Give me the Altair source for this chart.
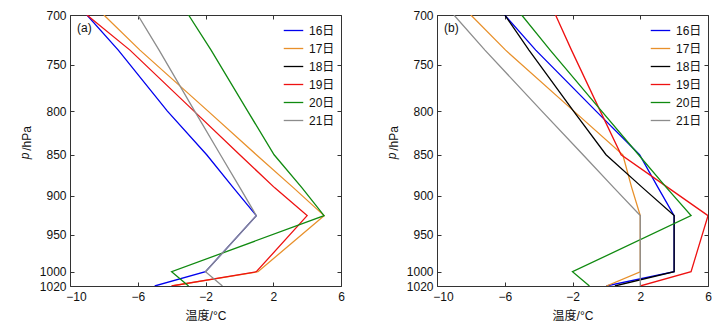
import altair as alt
import pandas as pd

levels = [700, 735, 800, 850, 890, 925, 1000, 1020]
days = ["16日", "17日", "18日", "19日", "20日", "21日"]
colors = ["#0000ee", "#e8902a", "#000000", "#ee1111", "#108a10", "#8c8c8c"]

# panel (a) temperatures (°C) at the levels above
a_16 = [-9.0, -7.15, -4.25, -1.93, -0.35, 1.0, -2.0, -5.0]
a_17 = [-8.0, -5.87, -1.85, 1.0, 3.2, 5.0, 1.1, -4.0]
a_19 = [-9.0, -6.46, -2.68, 0.02, 2.09, 4.0, 1.0, -4.0]
a_20 = [-3.0, -1.67, 0.49, 2.05, 3.7, 5.0, -4.0, -3.0]
a_21 = [-6.0, -4.74, -2.64, -1.12, 0.04, 1.0, -2.0, -1.0]

# panel (b)
b_16 = [-6.0, -4.17, -0.61, 1.96, 3.06, 4.0, 4.0, 0.0]
b_17 = [-8.0, -5.95, -1.92, 0.97, 1.5, 2.0, 2.0, 0.0]
b_18 = [-6.0, -4.57, -1.94, -0.02, 2.15, 4.0, 4.0, 0.5]
b_19 = [-3.0, -2.06, -0.36, 0.87, 3.66, 6.0, 5.0, 2.0]
b_20 = [-5.0, -3.32, -0.28, 1.9, 3.56, 5.0, -2.0, -1.0]
b_21 = [-9.0, -7.17, -3.81, -1.38, 0.45, 2.0, 2.0, 2.0]

x_ticks = [-10, -6, -2, 2, 6]
y_ticks = [700, 750, 800, 850, 900, 950, 1000, 1020]

FONT = "Liberation Sans, Arial, Noto Sans CJK SC"
FRAME = "#333333"


def to_df(series):
    rows = []
    for day, vals in series.items():
        for p, t in zip(levels, vals):
            rows.append({"day": day, "p": p, "t": t})
    return pd.DataFrame(rows)


df_a = to_df({"16日": a_16, "17日": a_17, "19日": a_19, "20日": a_20, "21日": a_21})
df_b = to_df({"16日": b_16, "17日": b_17, "18日": b_18, "19日": b_19, "20日": b_20, "21日": b_21})

xscale = alt.Scale(domain=[-10, 6], nice=False, zero=False)
yscale = alt.Scale(type="log", domain=[700, 1020], reverse=True, nice=False)

common = dict(grid=False, tickColor=FRAME, tickWidth=1, tickSize=4, offset=-4,
              domain=False, labelFont=FONT, titleFont=FONT, labelFontSize=12,
              titleFontSize=12, labelColor="#111", titleColor="#111",
              titleFontWeight="normal", labelOverlap=False)


def panel(df, label):
    base = alt.Chart(df)
    lines = base.mark_line(strokeWidth=1.3, clip=True).encode(
        x=alt.X("t:Q", scale=xscale, title="温度/°C",
                axis=alt.Axis(orient="bottom", values=x_ticks, labelPadding=5,
                              titlePadding=8, labelFlush=False,
                              labelOffset={"condition": {"test": "datum.value == -10", "value": 6},
                                           "value": 0},
                              **common)),
        y=alt.Y("p:Q", scale=yscale, title="/hPa",
                axis=alt.Axis(orient="left", values=y_ticks, format="d",
                              labelPadding=4, titlePadding=6, titleY=123, **common)),
        color=alt.Color("day:N", scale=alt.Scale(domain=days, range=colors),
                        legend=alt.Legend(orient="none", legendX=213, legendY=5,
                                          title=None, symbolType="stroke",
                                          symbolSize=380, symbolStrokeWidth=1.3,
                                          labelFont=FONT, labelFontSize=12,
                                          labelColor="#111", rowPadding=1,
                                          padding=0, labelOffset=5)),
        order=alt.Order("p:Q"),
    )
    ghost = base.mark_line(opacity=0).encode(
        x=alt.X("t:Q", scale=xscale, title=None,
                axis=alt.Axis(orient="top", values=x_ticks, labels=False, **common)),
        y=alt.Y("p:Q", scale=yscale, title=None,
                axis=alt.Axis(orient="right", values=y_ticks, labels=False, **common)),
        detail="day:N",
        order=alt.Order("p:Q"),
    )
    txt = alt.Chart(pd.DataFrame({"label": [label]})).mark_text(
        align="left", baseline="middle", fontSize=12, font=FONT, color="#111"
    ).encode(x=alt.value(7), y=alt.value(13), text="label:N")
    p_sym = alt.Chart(pd.DataFrame({"sym": ["p"]})).mark_text(
        align="center", baseline="bottom", angle=270, fontSize=12, font=FONT,
        fontStyle="italic", color="#111"
    ).encode(x=alt.value(-38), y=alt.value(141), text="sym:N")
    return alt.layer(lines, ghost, txt, p_sym).resolve_axis(
        x="independent", y="independent").properties(width=271, height=271)


chart = alt.hconcat(panel(df_a, "(a)"), panel(df_b, "(b)"), spacing=40).resolve_scale(
    color="independent"
).properties(
    padding={"left": 18, "top": 8, "right": 5, "bottom": 5},
    background="white",
).configure_view(stroke=FRAME, strokeWidth=1)

chart.save("out.html", embed_options={"renderer": "svg", "actions": False})
